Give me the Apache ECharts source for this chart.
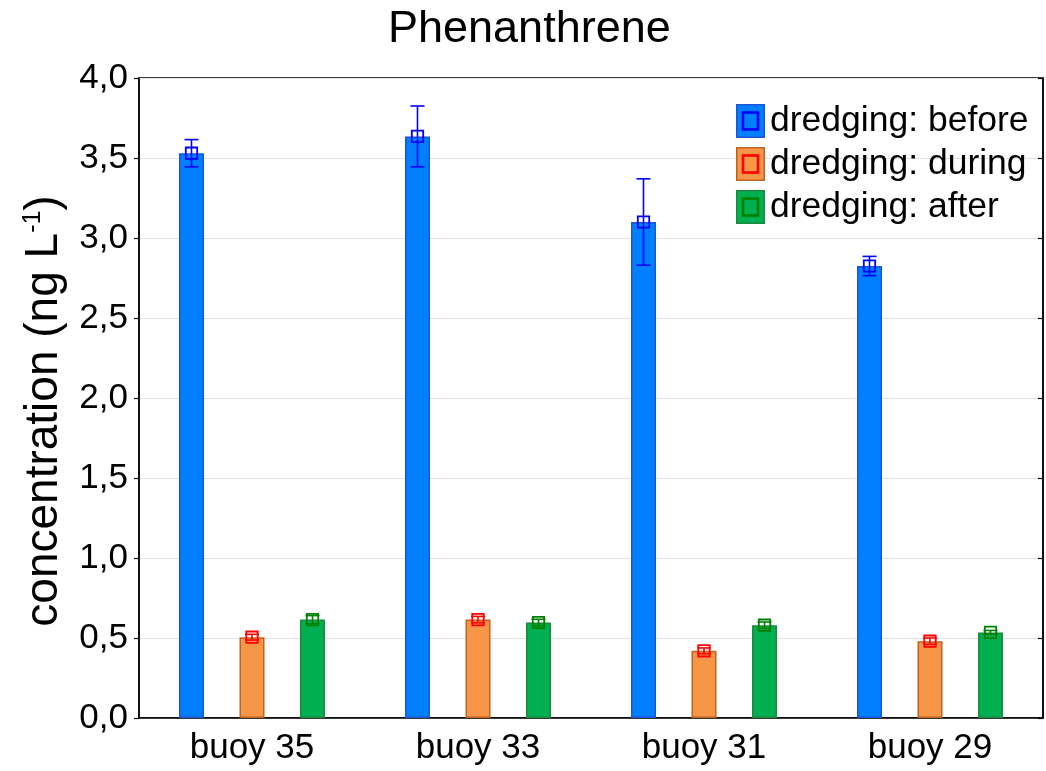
<!DOCTYPE html>
<html>
<head>
<meta charset="utf-8">
<script src="https://cdn.jsdelivr.net/npm/echarts@6/dist/echarts.min.js"></script>
<style>
  html, body { margin: 0; padding: 0; background: #fff; }
  #chart { width: 1046px; height: 771px; }
</style>
</head>
<body>
<div id="chart"></div>
<script>
// Sampling sites along the channel
const categories = ['buoy 35', 'buoy 33', 'buoy 31', 'buoy 29'];

// Mean phenanthrene concentration (ng/L) and error half-widths per period
const beforeMean = [3.53, 3.635, 3.10, 2.825];
const beforeErr  = [0.085, 0.19, 0.27, 0.06];
const duringMean = [0.505, 0.615, 0.42, 0.48];
const duringErr  = [0.018, 0.02, 0.018, 0.02];
const afterMean  = [0.615, 0.597, 0.58, 0.535];
const afterErr   = [0.025, 0.02, 0.02, 0.012];

const yTicks = [0, 0.5, 1.0, 1.5, 2.0, 2.5, 3.0, 3.5, 4.0];

const FONT = '"Liberation Sans", Arial, sans-serif';
const BAR_W = 25;
const BAR_GAP = 1.42;

const periods = [
  { name: 'dredging: before', mean: beforeMean, err: beforeErr,
    fill: '#0080ff', border: '#1c55d8', mark: '#0000ff' },
  { name: 'dredging: during', mean: duringMean, err: duringErr,
    fill: '#f79646', border: '#c0631f', mark: '#ff0000' },
  { name: 'dredging: after', mean: afterMean, err: afterErr,
    fill: '#00b050', border: '#1a8a3c', mark: '#008000' }
];

// Legend swatch: filled box with a hollow square marker inside
function swatch(p) {
  const svg =
    '<svg xmlns="http://www.w3.org/2000/svg" width="29" height="34" viewBox="0 0 29 34">' +
    '<rect x="0.75" y="0.75" width="27.5" height="32.5" fill="' + p.fill + '" stroke="' + p.border + '" stroke-width="1.5"/>' +
    '<rect x="7" y="8.5" width="15" height="17" fill="none" stroke="' + p.mark + '" stroke-width="2.6"/>' +
    '</svg>';
  return 'image://data:image/svg+xml;charset=utf-8,' + encodeURIComponent(svg);
}

// Error bar + hollow square marker, shifted onto its bar within the group
function errorRenderer(k, color) {
  return function (params, api) {
    const ci = api.value(0);
    const m = api.value(1);
    const e = api.value(2);
    const dx = (k - 1) * (BAR_W + BAR_W * BAR_GAP);
    const c = api.coord([ci, m]);
    const hi = api.coord([ci, m + e]);
    const lo = api.coord([ci, m - e]);
    const x = c[0] + dx;
    const cap = 7;
    const sq = 5.7;
    const st = { stroke: color, lineWidth: 1.6, fill: null };
    return {
      type: 'group',
      children: [
        { type: 'line', shape: { x1: x, y1: hi[1], x2: x, y2: lo[1] }, style: st },
        { type: 'line', shape: { x1: x - cap, y1: hi[1], x2: x + cap, y2: hi[1] }, style: st },
        { type: 'line', shape: { x1: x - cap, y1: lo[1], x2: x + cap, y2: lo[1] }, style: st },
        { type: 'rect', shape: { x: x - sq, y: c[1] - sq, width: sq * 2, height: sq * 2 },
          style: { stroke: color, lineWidth: 1.8, fill: 'rgba(0,0,0,0)' } }
      ]
    };
  };
}

const series = [];
periods.forEach(function (p) {
  series.push({
    name: p.name,
    type: 'bar',
    barWidth: BAR_W,
    barGap: (BAR_GAP * 100) + '%',
    data: p.mean,
    itemStyle: { color: p.fill, borderColor: p.border, borderWidth: 1.5 },
    emphasis: { disabled: true },
    z: 2
  });
});
periods.forEach(function (p, k) {
  series.push({
    name: p.name + ' error',
    type: 'custom',
    renderItem: errorRenderer(k, p.mark),
    data: p.mean.map(function (v, i) { return [i, v, p.err[i]]; }),
    encode: { x: 0, y: 1 },
    z: 5,
    silent: true
  });
});

const chart = echarts.init(document.getElementById('chart'), null, { renderer: 'canvas' });
chart.setOption({
  animation: false,
  backgroundColor: '#ffffff',
  title: {
    text: 'Phenanthrene',
    left: 383,
    top: 2,
    textStyle: { fontFamily: FONT, fontSize: 45, fontWeight: 'normal', color: '#000' }
  },
  legend: {
    orient: 'vertical',
    left: 736,
    top: 103,
    padding: 0,
    itemWidth: 29,
    itemHeight: 34,
    itemGap: 7,
    selectedMode: false,
    data: periods.map(function (p) { return { name: p.name, icon: swatch(p) }; }),
    textStyle: { fontFamily: FONT, fontSize: 35.5, color: '#000' }
  },
  grid: {
    left: 139, right: 3, top: 78, bottom: 53,
    show: true, borderColor: '#000', borderWidth: 1.5, backgroundColor: 'transparent'
  },
  xAxis: {
    type: 'category',
    data: categories,
    axisLine: { lineStyle: { color: '#000', width: 1.5 } },
    axisTick: { show: true, inside: true, alignWithLabel: true, length: 5, lineStyle: { color: '#000', width: 1.5 } },
    axisLabel: { fontFamily: FONT, fontSize: 35, color: '#000', margin: 13 },
    splitLine: { show: false }
  },
  yAxis: [
    {
      type: 'value',
      min: 0, max: 4, interval: 0.5,
      name: '{a|concentration (ng L}{s|-1}{a|)}',
      nameLocation: 'middle',
      nameRotate: 90,
      nameGap: 72,
      nameTextStyle: {
        padding: [0, 26, 0, 0],
        rich: {
          a: { fontFamily: FONT, fontSize: 46, color: '#000' },
          s: { fontFamily: FONT, fontSize: 25, color: '#000', verticalAlign: 'top' }
        }
      },
      axisLine: { show: true, lineStyle: { color: '#000', width: 1.5 } },
      axisTick: { show: true, inside: false, length: 5, lineStyle: { color: '#000', width: 1.2 } },
      axisLabel: {
        fontFamily: FONT, fontSize: 35, color: '#000', margin: 11,
        formatter: function (v) {
          const t = yTicks.find(function (s) { return Math.abs(s - v) < 1e-9; });
          return (t === undefined ? v : t).toFixed(1).replace('.', ',');
        }
      },
      splitLine: { show: true, lineStyle: { color: '#e3e3e3', width: 1.2 } }
    },
    {
      type: 'value',
      position: 'right',
      min: 0, max: 4, interval: 0.5,
      axisLine: { show: true, lineStyle: { color: '#000', width: 1.5 } },
      axisTick: { show: true, inside: true, length: 5, lineStyle: { color: '#000', width: 1.2 } },
      axisLabel: { show: false },
      splitLine: { show: false }
    }
  ],
  series: series
});
</script>
</body>
</html>
